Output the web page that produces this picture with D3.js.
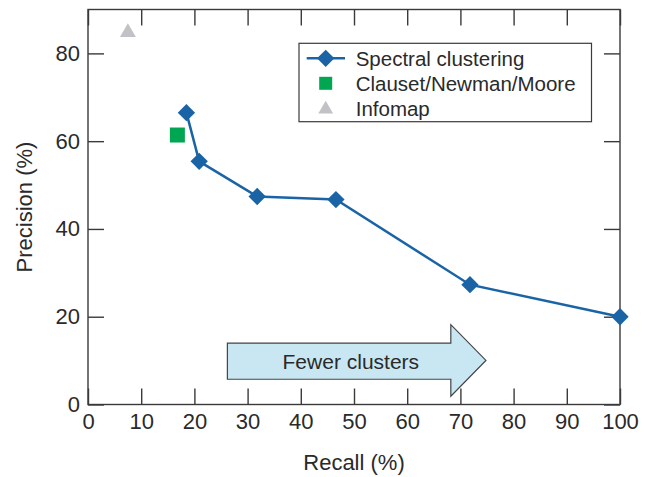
<!DOCTYPE html>
<html><head><meta charset="utf-8">
<script src="https://cdn.jsdelivr.net/npm/d3@7"></script>
<style>body{margin:0;background:#fff}svg{display:block}text{font-family:"Liberation Sans",Arial,sans-serif;fill:#2a2a2a}</style>
</head><body><svg id="c" width="646" height="477"></svg>
<script>
const spectralRecall = [18.5, 20.9, 31.8, 46.6, 71.8, 100];
const spectralPrecision = [66.5, 55.4, 47.4, 46.7, 27.3, 20.0];
const cnmPoint = [16.8, 61.4];
const infomapPoint = [7.5, 85];
const xTicks = [0,10,20,30,40,50,60,70,80,90,100];
const yTicks = [0,20,40,60,80];
const legendLabels = ["Spectral clustering","Clauset/Newman/Moore","Infomap"];
const arrowLabel = "Fewer clusters";
// arrow shape in data units: [rectLeft, headBase, tip, labelCenter], [rectBottom, rectTop, headBottom, headTop]
const arrowX = [26.2, 68.2, 74.8, 49.4];
const arrowY = [5.75, 14.0, 1.9, 18.2];

const svg = d3.select("#c");
const L=88,R=620,T=9.5,B=404.5;
const x = d3.scaleLinear().domain([0,100]).range([L,R]);
const y = d3.scaleLinear().domain([0,90]).range([B,T]);
const axisColor="#3a3a3a";
const g = svg.append("g");

// frame
g.append("rect").attr("x",L).attr("y",T).attr("width",R-L).attr("height",B-T)
 .attr("fill","none").attr("stroke",axisColor).attr("stroke-width",1.4);

// axes
const tl=16;
const xa = g.append("g").attr("transform",`translate(0,${B})`)
  .call(d3.axisBottom(x).tickValues(xTicks).tickSize(-tl).tickPadding(5).tickFormat(d3.format("d")));
const xt = g.append("g").attr("transform",`translate(0,${T})`)
  .call(d3.axisTop(x).tickValues(xTicks).tickSize(-tl).tickFormat(""));
const ya = g.append("g").attr("transform",`translate(${L},0)`)
  .call(d3.axisLeft(y).tickValues(yTicks).tickSize(-tl).tickPadding(8).tickFormat(d3.format("d")));
const yr = g.append("g").attr("transform",`translate(${R},0)`)
  .call(d3.axisRight(y).tickValues(yTicks).tickSize(-tl).tickFormat(""));
[xa,xt,ya,yr].forEach(a=>{a.select(".domain").remove();a.selectAll("line").attr("stroke",axisColor).attr("stroke-width",1.4);
  a.selectAll("text").attr("font-size",22).attr("fill","#2a2a2a").attr("font-family","Liberation Sans, Arial, sans-serif");});
xa.selectAll("text").attr("dy","0.9em");

// axis titles
g.append("text").attr("x",354).attr("y",470).attr("text-anchor","middle").attr("font-size",22).text("Recall (%)");
g.append("text").attr("transform",`translate(32,${(T+B)/2}) rotate(-90)`).attr("text-anchor","middle").attr("font-size",22).text("Precision (%)");

// arrow
const ap = [[arrowX[0],arrowY[0]],[arrowX[0],arrowY[1]],[arrowX[1],arrowY[1]],[arrowX[1],arrowY[3]],
  [arrowX[2],(arrowY[2]+arrowY[3])/2],[arrowX[1],arrowY[2]],[arrowX[1],arrowY[0]]];
g.append("path").attr("d",d3.line().x(d=>x(d[0])).y(d=>y(d[1]))(ap)+"Z")
 .attr("fill","#c9e7f2").attr("stroke","#444").attr("stroke-width",1.2).attr("stroke-linejoin","miter");
g.append("text").attr("x",x(arrowX[3])).attr("y",y((arrowY[0]+arrowY[1])/2)).attr("dy","0.36em")
 .attr("text-anchor","middle").attr("font-size",21).text(arrowLabel);

const blue="#1a64a6", green="#00a651", gray="#c2c2c6";
const spectral = spectralRecall.map((r,i)=>[r,spectralPrecision[i]]);
g.append("path").attr("d",d3.line().x(d=>x(d[0])).y(d=>y(d[1]))(spectral))
 .attr("fill","none").attr("stroke",blue).attr("stroke-width",2.5);
const diamond = d3.symbol().type(d3.symbolSquare).size(150);
g.selectAll(".dm").data(spectral).join("path")
 .attr("transform",d=>`translate(${x(d[0])},${y(d[1])}) rotate(45)`).attr("d",diamond).attr("fill",blue);
g.append("rect").attr("x",x(cnmPoint[0])-7.5).attr("y",y(cnmPoint[1])-7.5).attr("width",15).attr("height",15).attr("fill",green);
const tri = d3.symbol().type(d3.symbolTriangle).size(110);
g.append("path").attr("transform",`translate(${x(infomapPoint[0])},${y(infomapPoint[1])+1})`).attr("d",tri).attr("fill",gray);

// legend
const lg = g.append("g");
lg.append("rect").attr("x",299).attr("y",43.3).attr("width",292.5).attr("height",78.4).attr("fill","#fff").attr("stroke",axisColor).attr("stroke-width",1.2);
const ly=[58.3,83.3,108.3];
lg.append("line").attr("x1",306.7).attr("x2",345).attr("y1",ly[0]).attr("y2",ly[0]).attr("stroke",blue).attr("stroke-width",2.5);
lg.append("path").attr("transform",`translate(325.7,${ly[0]}) rotate(45)`).attr("d",diamond).attr("fill",blue);
lg.append("rect").attr("x",325.7-6.5).attr("y",ly[1]-6.5).attr("width",13).attr("height",13).attr("fill",green);
lg.append("path").attr("transform",`translate(325.7,${ly[2]+1})`).attr("d",d3.symbol().type(d3.symbolTriangle).size(95)).attr("fill",gray);
lg.selectAll(".lt").data(legendLabels).join("text").attr("x",355.7).attr("y",(d,i)=>ly[i]).attr("dy","0.36em")
 .attr("font-size",20.5).text(d=>d);
</script></body></html>
